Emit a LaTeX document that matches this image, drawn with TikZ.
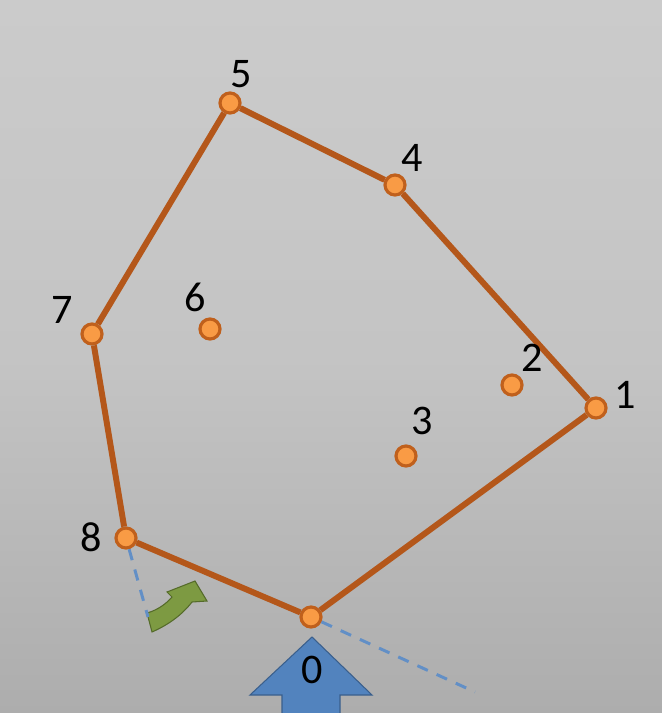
\documentclass[tikz,border=0pt]{standalone}
\usepackage{fontspec}
\setmainfont{Carlito}
\usetikzlibrary{calc}
\definecolor{hullbrown}{HTML}{B4571A}
\definecolor{ptorange}{HTML}{F99B45}
\definecolor{ptedge}{HTML}{C0601C}
\definecolor{scanblue}{HTML}{628FC6}
\definecolor{pivotblue}{HTML}{5283BE}
\definecolor{pivotedge}{HTML}{3A5F8C}
\definecolor{turngreen}{HTML}{7D9A42}
\definecolor{turnedge}{HTML}{556B2A}
\definecolor{paperlight}{HTML}{CBCBCB}
\definecolor{papermid}{HTML}{C4C4C4}
\definecolor{paperdark}{HTML}{ADADAD}
\tikzset{
  hullpt/.style={circle, draw=ptedge, fill=ptorange, line width=1.8pt, minimum size=0.40cm, inner sep=0pt},
  hull/.style={draw=hullbrown, line width=3.4pt, line join=round},
  numlab/.style={font=\fontsize{24}{24}\selectfont, text=black, inner sep=0pt},
  scanline/.style={draw=scanblue, line width=1.7pt, dash pattern=on 6.5pt off 5.5pt},
  pivotarrow/.style={fill=pivotblue, draw=pivotedge, line width=0.6pt},
  turnarrow/.style={fill=turngreen, draw=turnedge, line width=0.6pt}
}

\begin{document}
\begin{tikzpicture}[x=0.02cm, y=-0.02cm]
  \useasboundingbox (0,0) rectangle (662,713);
  \shade[top color=paperlight, bottom color=paperdark, middle color=papermid] (0,0) rectangle (662,713);

  % pivot arrow and scan lines
  \draw[pivotarrow] (312,637) -- (372,695) -- (340,695) -- (340,716) -- (282,716) -- (282,695) -- (250,695) -- cycle;
  \draw[turnarrow] (147,613) .. controls (158,610) and (167,603) .. (172,597) -- (167,592) -- (195,581)
    -- (207,601) -- (192,602) .. controls (182,615) and (168,625) .. (152,632) -- cycle;

  % points
  \node[hullpt] (p0) at (311,617) {};
  \node[hullpt] (p1) at (596,408) {};
  \node[hullpt] (p2) at (512,385) {};
  \node[hullpt] (p3) at (406,456) {};
  \node[hullpt] (p4) at (395,185) {};
  \node[hullpt] (p5) at (230,103) {};
  \node[hullpt] (p6) at (210,329) {};
  \node[hullpt] (p7) at (92,334) {};
  \node[hullpt] (p8) at (126,538) {};

  \coordinate (s0) at (475,692);
  \coordinate (s8) at (148,617);
  \draw[scanline] (p0) -- (s0);
  \draw[scanline] (p8) -- (s8);

  \draw[hull] (p0) -- (p1);
  \draw[hull] (p1) -- (p4);
  \draw[hull] (p4) -- (p5);
  \draw[hull] (p5) -- (p7);
  \draw[hull] (p7) -- (p8);
  \draw[hull] (p8) -- (p0);

  \node[numlab] (l0) at ($(p0)+(1,53)$) {0};
  \node[numlab] (l1) at ($(p1)+(29,-13)$) {1};
  \node[numlab] (l2) at ($(p2)+(20,-27)$) {2};
  \node[numlab] (l3) at ($(p3)+(16,-35)$) {3};
  \node[numlab] (l4) at ($(p4)+(17,-27)$) {4};
  \node[numlab] (l5) at ($(p5)+(11,-29)$) {5};
  \node[numlab] (l6) at ($(p6)+(-15,-32)$) {6};
  \node[numlab] (l7) at ($(p7)+(-30,-24)$) {7};
  \node[numlab] (l8) at ($(p8)+(-35,-1)$) {8};
\end{tikzpicture}
\end{document}
